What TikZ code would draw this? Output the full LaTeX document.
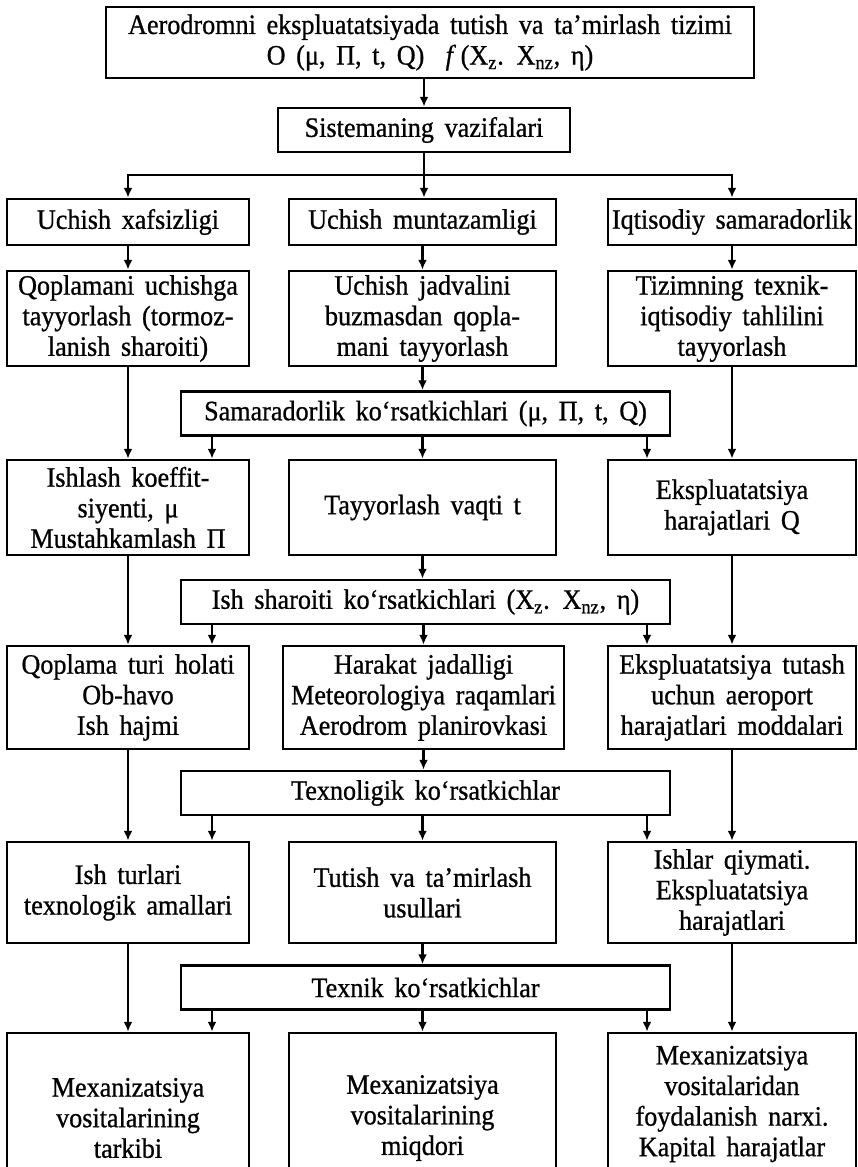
\documentclass[tikz,border=0pt]{standalone}
\usepackage{fontspec}
\setmainfont[FakeStretch=0.93, FakeBold=0.8]{Liberation Serif}
\usepackage{tikz}
\usetikzlibrary{arrows.meta}

\begin{document}
\begin{tikzpicture}[x=0.02cm, y=-0.02cm,
  txt/.style={align=center, font={\fontsize{16}{17.4}\selectfont\spaceskip=0.38em\relax}},
  box/.style={txt, draw, line width=1.6pt, inner sep=0pt},
  lbox/.style={box, minimum width=4.84cm},
  mbox/.style={box, minimum width=5.34cm},
  rbox/.style={box, minimum width=4.96cm},
  wbox/.style={box, minimum width=9.78cm, minimum height=0.88cm},
  link/.style={line width=1.3pt, -{Latex[length=5.5pt,width=5pt]}}]
\useasboundingbox (0,0) rectangle (858,1167);
\clip (0,0) rectangle (858,1167);
\coordinate (P) at (212,0);
\coordinate (Q) at (647,0);
\coordinate (hub) at (424,175);

\node[box, minimum width=12.96cm, minimum height=1.42cm] (title) at (430,42.5) {Aerodromni ekspluatatsiyada tutish va ta’mirlash tizimi\\O (μ, Π, t, Q)~~\textit{f}\,(X\textsubscript{z}. X\textsubscript{nz}, η)};
\node[box, minimum width=5.84cm, minimum height=0.88cm] (sist) at (424,130) {Sistemaning vazifalari};

% vazifalar
\node[lbox, minimum height=0.92cm] (a1) at (128,222) {Uchish xafsizligi};
\node[mbox, minimum height=0.92cm] (a2) at (422.5,222) {Uchish muntazamligi};
\node[rbox, minimum height=0.92cm] (a3) at (732,222) {Iqtisodiy samaradorlik};

\node[lbox, minimum height=1.9cm] (b1) at (128,318.5) {Qoplamani uchishga\\tayyorlash (tormoz-\\lanish sharoiti)};
\node[mbox, minimum height=1.9cm] (b2) at (422.5,318.5) {Uchish jadvalini\\buzmasdan qopla-\\mani tayyorlash};
\node[rbox, minimum height=1.9cm] (b3) at (732,318.5) {Tizimning texnik-\\iqtisodiy tahlilini\\tayyorlash};

\node[wbox] (samar) at (425.5,413.5) {Samaradorlik ko‘rsatkichlari (μ, Π, t, Q)};

\node[lbox, minimum height=1.9cm] (c1) at (128,507.5) {Ishlash koeffit-\\siyenti, μ\\Mustahkamlash Π};
\node[mbox, minimum height=1.9cm] (c2) at (422.5,507.5) {Tayyorlash vaqti t};
\node[rbox, minimum height=1.9cm] (c3) at (732,507.5) {Ekspluatatsiya\\harajatlari Q};

\node[wbox] (ish) at (425.5,602) {Ish sharoiti ko‘rsatkichlari (X\textsubscript{z}. X\textsubscript{nz}, η)};

\node[lbox, minimum height=2.06cm] (d1) at (128,697.5) {Qoplama turi holati\\Ob-havo\\Ish hajmi};
\node[box, minimum width=5.62cm, minimum height=2.06cm] (d2) at (423.5,697.5) {Harakat jadalligi\\Meteorologiya raqamlari\\Aerodrom planirovkasi};
\node[rbox, minimum height=2.06cm] (d3) at (732,697.5) {Ekspluatatsiya tutash\\uchun aeroport\\harajatlari moddalari};

\node[wbox] (texnol) at (425.5,793) {Texnoligik ko‘rsatkichlar};

\node[lbox, minimum height=2.02cm] (e1) at (128,892.5) {Ish turlari\\texnologik amallari};
\node[mbox, minimum height=2.02cm] (e2) at (422.5,892.5) {Tutish va ta’mirlash\\usullari};
\node[rbox, minimum height=2.02cm] (e3) at (732,892.5) {Ishlar qiymati.\\Ekspluatatsiya\\harajatlari};

\node[wbox] (texnik) at (425.5,987.5) {Texnik ko‘rsatkichlar};

% mexanizatsiya (pastki qismi kesilgan)
\node[lbox, minimum height=3.4cm] (f1) at (128,1118) {Mexanizatsiya\\vositalarining\\tarkibi};
\node[mbox, minimum height=3.4cm] (f2) at (422.5,1118) {Mexanizatsiya\\vositalarining\\miqdori};
\node[rbox, minimum height=3.4cm] (f3) at (732,1118) {};
\node[txt] (f3t) at (732,1104) {Mexanizatsiya\\vositalaridan\\foydalanish narxi.\\Kapital harajatlar};

% strelkalar
\draw[link] (title.south -| sist.north) -- (sist.north);
\draw[line width=1.3pt] (sist.south) -- (hub);
\draw[link] (hub) -| (a1.north);
\draw[link] (hub) -- (hub |- a2.north);
\draw[link] (hub) -| (a3.north);
\draw[link] (a1) -- (b1);
\draw[link] (a2) -- (b2);
\draw[link] (a3) -- (b3);

\draw[link] (b1) -- (c1);
\draw[link] (b3) -- (c3);
\draw[link] (b2.south) -- (b2.south |- samar.north);
\draw[link] (P |- samar.south) -- (P |- c1.north);
\draw[link] (c2.north |- samar.south) -- (c2.north);
\draw[link] (Q |- samar.south) -- (Q |- c3.north);

\draw[link] (c1) -- (d1);
\draw[link] (c3) -- (d3);
\draw[link] (c2.south) -- (c2.south |- ish.north);
\draw[link] (P |- ish.south) -- (P |- d1.north);
\draw[link] (d2.north |- ish.south) -- (d2.north);
\draw[link] (Q |- ish.south) -- (Q |- d3.north);

\draw[link] (d1) -- (e1);
\draw[link] (d3) -- (e3);
\draw[link] (d2.south) -- (d2.south |- texnol.north);
\draw[link] (P |- texnol.south) -- (P |- e1.north);
\draw[link] (e2.north |- texnol.south) -- (e2.north);
\draw[link] (Q |- texnol.south) -- (Q |- e3.north);

\draw[link] (e1) -- (f1);
\draw[link] (e3) -- (f3);
\draw[link] (e2.south) -- (e2.south |- texnik.north);
\draw[link] (P |- texnik.south) -- (P |- f1.north);
\draw[link] (f2.north |- texnik.south) -- (f2.north);
\draw[link] (Q |- texnik.south) -- (Q |- f3.north);
\end{tikzpicture}
\end{document}
